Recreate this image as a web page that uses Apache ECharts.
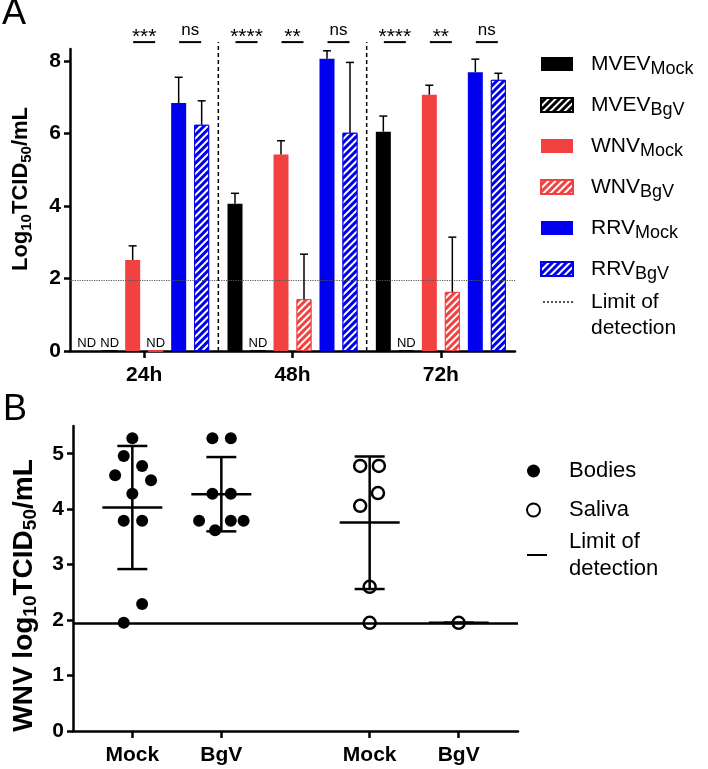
<!DOCTYPE html>
<html lang="en">
<head>
<meta charset="utf-8">
<title>MVEV / WNV / RRV titres</title>
<script src="https://cdn.jsdelivr.net/npm/echarts@6/dist/echarts.min.js"></script>
<style>html,body{margin:0;padding:0;background:#fff;}</style>
</head>
<body>
<div id="main" style="width:708px;height:769px;"></div>
<script>
// ---- panel A : titres per time point (0 = not detected) ----
var timePoints = ['24h', '48h', '72h'];
var mvevMock   = [0, 4.06, 6.05], mvevMockHi = [0, 4.35, 6.48];
var mvevBgV    = [0, 0, 0],       mvevBgVHi  = [0, 0, 0];
var wnvMock    = [2.51, 5.42, 7.07], wnvMockHi = [2.90, 5.80, 7.33];
var wnvBgV     = [0, 1.43, 1.63],    wnvBgVHi  = [0, 2.67, 3.14];
var rrvMock    = [6.84, 8.06, 7.69], rrvMockHi = [7.55, 8.28, 8.05];
var rrvBgV     = [6.24, 6.02, 7.48], rrvBgVHi  = [6.90, 7.96, 7.66];
var yTicksA = [0, 2, 4, 6, 8];
var limitA = 1.95;
// significance marks: category index, bar pair, text
var sigCat  = [0, 0, 1, 1, 1, 2, 2, 2];
var sigPair = [1, 2, 0, 1, 2, 0, 1, 2];
var sigText = ['***', 'ns', '****', '**', 'ns', '****', '**', 'ns'];
var sepPairs = [[0, 1], [1, 2]];

// ---- panel B : WNV titres in bodies / saliva ----
var xLabelsB = ['Mock', 'BgV', 'Mock', 'BgV'];
var xSlotsB = [2, 5, 10, 13];
var yTicksB = [0, 1, 2, 3, 4, 5];
var bodies = [
    [2, 5.28], [1.71, 4.96], [2.33, 4.78], [1.42, 4.61], [2.63, 4.52],
    [2, 4.28], [1.71, 3.79], [2.33, 3.79], [2.33, 2.29], [1.71, 1.95],
    [4.7, 5.28], [5.32, 5.28], [4.7, 4.28], [5.32, 4.28], [4.25, 3.79],
    [5.32, 3.79], [5.75, 3.79], [4.79, 3.62]
];
var saliva = [
    [9.68, 4.78], [10.31, 4.78], [10.28, 4.29], [9.68, 4.06], [10, 2.60], [10, 1.95],
    [13, 1.95]
];
var statMean = [4.03, 4.27, 3.76, 1.95];
var statLo   = [2.92, 3.60, 2.56, 1.95];
var statHi   = [5.14, 4.94, 4.95, 1.95];
var limitB = 1.95;

var FONT = '"Liberation Sans", Arial, sans-serif';
var BAR_W = 15, BAR_STEP = 23;
var RED = '#f24141', BLUE = '#0000ee';

var myChart = echarts.init(document.getElementById('main'));

function hatch() {
    return {symbol: 'rect', symbolSize: 1, color: '#fff',
        dashArrayX: [1, 0], dashArrayY: [2, 3], rotation: -Math.PI / 4};
}

var barDefs = [
    {name: 'MVEV_Mock', data: mvevMock, hi: mvevMockHi, color: '#000', hatched: false},
    {name: 'MVEV_BgV', data: mvevBgV, hi: mvevBgVHi, color: '#000', hatched: true},
    {name: 'WNV_Mock', data: wnvMock, hi: wnvMockHi, color: RED, hatched: false},
    {name: 'WNV_BgV', data: wnvBgV, hi: wnvBgVHi, color: RED, hatched: true},
    {name: 'RRV_Mock', data: rrvMock, hi: rrvMockHi, color: BLUE, hatched: false},
    {name: 'RRV_BgV', data: rrvBgV, hi: rrvBgVHi, color: BLUE, hatched: true}
];

var series = barDefs.map(function (b) {
    var st = {color: b.color, borderColor: b.color, borderWidth: b.hatched ? 1 : 0};
    if (b.hatched) st.decal = hatch();
    return {
        name: b.name, type: 'bar', xAxisIndex: 0, yAxisIndex: 0,
        data: b.data, barWidth: BAR_W, barGap: ((BAR_STEP - BAR_W) / BAR_W * 100) + '%',
        itemStyle: st,
        label: {
            show: true, position: 'top', distance: 1, color: '#000',
            fontSize: 13, fontFamily: FONT,
            formatter: function (p) { return p.value === 0 ? 'ND' : ''; }
        }
    };
});

// error bars (upper SD only)
var errData = [];
barDefs.forEach(function (b, s) {
    b.hi.forEach(function (hi, c) { if (hi > 0) errData.push([c, s, b.data[c], hi]); });
});
series.push({
    type: 'custom', xAxisIndex: 0, yAxisIndex: 0, z: 5, silent: true,
    data: errData, encode: {x: 0, y: 3},
    renderItem: function (params, api) {
        var c = api.value(0), s = api.value(1);
        var base = api.coord([c, api.value(2)]);
        var top = api.coord([c, api.value(3)]);
        var x = base[0] + (s - 2.5) * BAR_STEP;
        var st = {stroke: '#000', lineWidth: 1.5};
        return {type: 'group', children: [
            {type: 'line', shape: {x1: x, y1: base[1], x2: x, y2: top[1]}, style: st},
            {type: 'line', shape: {x1: x - 4, y1: top[1], x2: x + 4, y2: top[1]}, style: st}
        ]};
    }
});

// significance marks above the bars
var SIG_Y = 8.52;
series.push({
    type: 'custom', xAxisIndex: 0, yAxisIndex: 0, z: 5, silent: true,
    data: sigCat.map(function (c, i) { return [c, sigPair[i]]; }),
    encode: {x: 0, y: 1},
    renderItem: function (params, api) {
        var p = api.coord([api.value(0), SIG_Y]);
        var x = p[0] + (2 * api.value(1) - 2) * BAR_STEP;
        var txt = sigText[params.dataIndex];
        var stars = txt.indexOf('*') >= 0;
        return {type: 'group', children: [
            {type: 'line', shape: {x1: x - 11, y1: p[1], x2: x + 11, y2: p[1]},
                style: {stroke: '#000', lineWidth: 2}},
            {type: 'text', style: {text: txt, x: x, y: stars ? p[1] + 6 : p[1] - 3,
                align: 'center', verticalAlign: 'bottom',
                fontSize: stars ? 21 : 17, fontFamily: FONT, fill: '#000'}}
        ]};
    }
});

// dashed separators between time points
series.push({
    type: 'custom', xAxisIndex: 0, yAxisIndex: 0, z: 1, silent: true,
    data: sepPairs, encode: {x: [0, 1]},
    renderItem: function (params, api) {
        var a = api.coord([api.value(0), 0]);
        var b = api.coord([api.value(1), 0]);
        var t = api.coord([api.value(0), SIG_Y]);
        var x = (a[0] + b[0]) / 2;
        return {type: 'line', shape: {x1: x, y1: a[1], x2: x, y2: t[1]},
            style: {stroke: '#000', lineWidth: 1.5, lineDash: [4, 3]}};
    }
});

// limit of detection, panel A
series.push({
    name: 'Limit of detection', type: 'line', xAxisIndex: 0, yAxisIndex: 0,
    data: [], symbol: 'none', itemStyle: {color: '#555'},
    lineStyle: {type: 'dotted', color: '#555', width: 1.2},
    markLine: {silent: true, symbol: ['none', 'none'], label: {show: false},
        lineStyle: {type: 'dotted', color: '#555', width: 1.2},
        data: [{yAxis: limitA}]}
});

// panel B
series.push({
    name: 'Bodies', type: 'scatter', xAxisIndex: 1, yAxisIndex: 1,
    data: bodies, symbol: 'circle', symbolSize: 12, itemStyle: {color: '#000', opacity: 1}, z: 3
});
series.push({
    name: 'Saliva', type: 'scatter', xAxisIndex: 1, yAxisIndex: 1,
    data: saliva, symbol: 'circle', symbolSize: 12,
    itemStyle: {color: '#fff', borderColor: '#000', borderWidth: 2.5, opacity: 1}, z: 3
});
series.push({
    type: 'custom', xAxisIndex: 1, yAxisIndex: 1, z: 4, silent: true,
    data: xSlotsB.map(function (x, i) { return [x, statMean[i], statLo[i], statHi[i]]; }),
    encode: {x: 0, y: [2, 3]},
    renderItem: function (params, api) {
        var m = api.coord([api.value(0), api.value(1)]);
        var lo = api.coord([api.value(0), api.value(2)]);
        var hi = api.coord([api.value(0), api.value(3)]);
        var st = {stroke: '#000', lineWidth: 2.5};
        var x = m[0];
        return {type: 'group', children: [
            {type: 'line', shape: {x1: x - 30, y1: m[1], x2: x + 30, y2: m[1]}, style: st},
            {type: 'line', shape: {x1: x, y1: lo[1], x2: x, y2: hi[1]}, style: st},
            {type: 'line', shape: {x1: x - 15, y1: lo[1], x2: x + 15, y2: lo[1]}, style: st},
            {type: 'line', shape: {x1: x - 15, y1: hi[1], x2: x + 15, y2: hi[1]}, style: st}
        ]};
    }
});
series.push({
    name: 'Limit of detection B', type: 'line', xAxisIndex: 1, yAxisIndex: 1,
    data: [], symbol: 'none', itemStyle: {color: '#000'},
    lineStyle: {color: '#000', width: 3},
    markLine: {silent: true, symbol: ['none', 'none'], label: {show: false},
        lineStyle: {type: 'solid', color: '#000', width: 2.5},
        data: [{yAxis: limitB}]}
});

var axisLineSt = {show: true, onZero: false, lineStyle: {color: '#000', width: 2.5}};
var tickSt = {show: true, length: 6, lineStyle: {color: '#000', width: 2.5}};
var tickLabel = {color: '#000', fontSize: 21, fontWeight: 'bold', fontFamily: FONT};
function nameRich(size, gap) {
    return {
        s: {fontSize: size, fontWeight: 'bold', fontFamily: FONT, color: '#000',
            verticalAlign: 'bottom', lineHeight: size},
        g: {width: gap}
    };
}
function gapRich(gap, sub) {
    var r = {g: {width: gap}};
    if (sub) r.s = {fontSize: sub, fontFamily: FONT, color: '#000', verticalAlign: 'bottom', lineHeight: sub};
    return r;
}
var noDot = {opacity: 0};

myChart.setOption({
    animation: false,
    title: [
        {text: 'A', left: 2, top: -4, padding: 0, textStyle: {fontSize: 36, fontWeight: 'normal', fontFamily: FONT, color: '#000'}},
        {text: 'B', left: 3, top: 392, padding: 0, textStyle: {fontSize: 36, fontWeight: 'normal', fontFamily: FONT, color: '#000'}}
    ],
    grid: [
        {left: 62, top: 49, width: 453, height: 302},
        {left: 61, top: 426, width: 457, height: 305}
    ],
    xAxis: [
        {type: 'category', gridIndex: 0, data: timePoints,
            axisLine: axisLineSt,
            axisTick: {show: true, alignWithLabel: true, length: 7, lineStyle: {color: '#000', width: 2.5}},
            axisLabel: Object.assign({margin: 14}, tickLabel)},
        {type: 'value', gridIndex: 1, min: 0, max: 15,
            axisLine: axisLineSt, splitLine: {show: false},
            axisTick: Object.assign({customValues: xSlotsB}, tickSt, {length: 7}),
            axisLabel: Object.assign({margin: 14, customValues: xSlotsB,
                formatter: function (v) { var i = xSlotsB.indexOf(v); return i >= 0 ? xLabelsB[i] : ''; }}, tickLabel)}
    ],
    yAxis: [
        {type: 'value', gridIndex: 0, min: 0, max: 8.33,
            axisLine: axisLineSt, splitLine: {show: false},
            axisTick: Object.assign({customValues: yTicksA}, tickSt),
            axisLabel: Object.assign({margin: 9, customValues: yTicksA}, tickLabel),
            name: '{g| }Log{s|10}TCID{s|50}/mL', nameLocation: 'middle', nameRotate: 90, nameGap: 36,
            nameTextStyle: {fontSize: 22, fontWeight: 'bold', fontFamily: FONT, color: '#000',
                lineHeight: 26, rich: nameRich(15, 22)}},
        {type: 'value', gridIndex: 1, min: 0, max: 5.5,
            axisLine: axisLineSt, splitLine: {show: false},
            axisTick: Object.assign({customValues: yTicksB}, tickSt),
            axisLabel: Object.assign({margin: 9, customValues: yTicksB}, tickLabel),
            name: 'WNV log{s|10}TCID{s|50}/mL{g| }', nameLocation: 'middle', nameRotate: 90, nameGap: 33,
            nameTextStyle: {fontSize: 28, fontWeight: 'bold', fontFamily: FONT, color: '#000',
                lineHeight: 32, rich: nameRich(19, 34)}}
    ],
    legend: [
        {orient: 'vertical', left: 540, top: 50, padding: 0, itemGap: 13,
            itemWidth: 32, itemHeight: 14, icon: 'rect', selectedMode: false,
            data: barDefs.map(function (b) { return b.name; }),
            formatter: function (n) { return '{g| }' + n.replace(/_(\w+)/, '{s|$1}'); },
            textStyle: {fontSize: 21, fontFamily: FONT, color: '#000', lineHeight: 28,
                rich: gapRich(13, 18)}},
        {orient: 'vertical', left: 542, top: 263, padding: 0,
            itemWidth: 31, itemHeight: 14, selectedMode: false, itemStyle: noDot,
            data: ['Limit of detection'],
            formatter: function () { return '\n{g| }Limit of\n{g| }detection'; },
            textStyle: {fontSize: 21, fontFamily: FONT, color: '#000', lineHeight: 26, rich: gapRich(12)}},
        {orient: 'vertical', left: 526, top: 458, padding: 0, itemGap: 13,
            itemWidth: 13, itemHeight: 13, selectedMode: false,
            data: ['Bodies', 'Saliva'],
            formatter: function (n) { return '{g| }' + n; },
            textStyle: {fontSize: 22, fontFamily: FONT, color: '#000', lineHeight: 26, rich: gapRich(24)}},
        {orient: 'vertical', left: 526, top: 528, padding: 0,
            itemWidth: 20, itemHeight: 14, selectedMode: false, itemStyle: noDot,
            data: ['Limit of detection B'],
            formatter: function () { return '{g| }Limit of\n{g| }detection'; },
            textStyle: {fontSize: 22, fontFamily: FONT, color: '#000', lineHeight: 27, rich: gapRich(17)}}
    ],
    series: series
});
</script>
</body>
</html>
